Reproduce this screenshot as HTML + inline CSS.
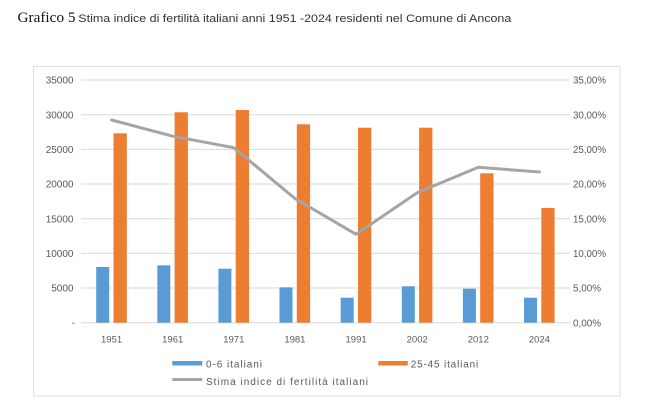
<!DOCTYPE html>
<html><head><meta charset="utf-8"><style>
html,body{margin:0;padding:0;background:#fff;}
svg{display:block;}
</style></head><body>
<svg width="650" height="402" viewBox="0 0 650 402" xmlns="http://www.w3.org/2000/svg" font-family="Liberation Sans, sans-serif">
<rect width="650" height="402" fill="#fff"/>
<text x="17.5" y="22" style="font-family:'Liberation Serif',serif" font-size="14.5" fill="#111" textLength="58" lengthAdjust="spacingAndGlyphs">Grafico 5</text>
<text x="78.3" y="22" font-size="11" fill="#333" textLength="433" lengthAdjust="spacingAndGlyphs">Stima indice di fertilità italiani anni 1951 -2024 residenti nel Comune di Ancona</text>
<rect x="33.5" y="66.5" width="586.5" height="329.5" fill="#fff" stroke="#dedede" stroke-width="1"/>
<g stroke="#d9d9d9" stroke-width="1">
<line x1="81" y1="80" x2="570" y2="80"/>
<line x1="81" y1="114.7" x2="570" y2="114.7"/>
<line x1="81" y1="149.4" x2="570" y2="149.4"/>
<line x1="81" y1="184" x2="570" y2="184"/>
<line x1="81" y1="218.7" x2="570" y2="218.7"/>
<line x1="81" y1="253.4" x2="570" y2="253.4"/>
<line x1="81" y1="288" x2="570" y2="288"/>
<line x1="81" y1="322.7" x2="570" y2="322.7"/>
</g>
<g font-size="10" fill="#595959" text-anchor="end">
<text x="73.5" y="83.6">35000</text>
<text x="73.5" y="118.3">30000</text>
<text x="73.5" y="153">25000</text>
<text x="73.5" y="187.6">20000</text>
<text x="73.5" y="222.3">15000</text>
<text x="73.5" y="257">10000</text>
<text x="73.5" y="291.6">5000</text>
<text x="75" y="326">-</text>
</g>
<g font-size="10" fill="#595959">
<text x="573" y="83.6" textLength="33" lengthAdjust="spacingAndGlyphs">35,00%</text>
<text x="573" y="118.3" textLength="33" lengthAdjust="spacingAndGlyphs">30,00%</text>
<text x="573" y="153" textLength="33" lengthAdjust="spacingAndGlyphs">25,00%</text>
<text x="573" y="187.6" textLength="33" lengthAdjust="spacingAndGlyphs">20,00%</text>
<text x="573" y="222.3" textLength="33" lengthAdjust="spacingAndGlyphs">15,00%</text>
<text x="573" y="257" textLength="33" lengthAdjust="spacingAndGlyphs">10,00%</text>
<text x="573" y="291.6" textLength="28" lengthAdjust="spacingAndGlyphs">5,00%</text>
<text x="573" y="326.3" textLength="28" lengthAdjust="spacingAndGlyphs">0,00%</text>
</g>
<g fill="#5b9bd5">
<rect x="96.2" y="267" width="13" height="55.7"/>
<rect x="157.3" y="265.3" width="13" height="57.4"/>
<rect x="218.4" y="268.7" width="13" height="54"/>
<rect x="279.5" y="287.3" width="13" height="35.4"/>
<rect x="340.7" y="297.7" width="13" height="25"/>
<rect x="401.8" y="286.3" width="13" height="36.4"/>
<rect x="462.9" y="288.7" width="13" height="34"/>
<rect x="524" y="297.7" width="13" height="25"/>
</g>
<g fill="#ed7d31">
<rect x="113.5" y="133.3" width="13.3" height="189.4"/>
<rect x="174.6" y="112.3" width="13.3" height="210.4"/>
<rect x="235.7" y="110" width="13.3" height="212.7"/>
<rect x="296.8" y="124.3" width="13.3" height="198.4"/>
<rect x="358" y="127.7" width="13.3" height="195"/>
<rect x="419.1" y="127.7" width="13.3" height="195"/>
<rect x="480.2" y="173.3" width="13.3" height="149.4"/>
<rect x="541.3" y="208" width="13.3" height="114.7"/>
</g>
<polyline points="111.6,120 172.7,136.2 233.8,147.7 294.9,198.5 356.1,234.3 417.2,192.7 478.3,167.3 539.4,172" fill="none" stroke="#a5a5a5" stroke-width="3" stroke-linejoin="round" stroke-linecap="round"/>
<g font-size="9.5" fill="#595959" text-anchor="middle">
<text x="111.6" y="342.5">1951</text>
<text x="172.7" y="342.5">1961</text>
<text x="233.8" y="342.5">1971</text>
<text x="294.9" y="342.5">1981</text>
<text x="356.1" y="342.5">1991</text>
<text x="417.2" y="342.5">2002</text>
<text x="478.3" y="342.5">2012</text>
<text x="539.4" y="342.5">2024</text>
</g>
<rect x="172.3" y="361" width="30" height="4.5" fill="#5b9bd5"/>
<text x="206" y="367.5" font-size="10" fill="#595959" textLength="56" lengthAdjust="spacing">0-6 italiani</text>
<rect x="378.3" y="361" width="29.5" height="4.5" fill="#ed7d31"/>
<text x="410.7" y="367.5" font-size="10" fill="#595959" textLength="67.5" lengthAdjust="spacing">25-45 italiani</text>
<line x1="172.3" y1="379.5" x2="202.3" y2="379.5" stroke="#a5a5a5" stroke-width="3"/>
<text x="206" y="385" font-size="10" fill="#595959" textLength="162" lengthAdjust="spacing">Stima indice di fertilità italiani</text>
</svg>
</body></html>
